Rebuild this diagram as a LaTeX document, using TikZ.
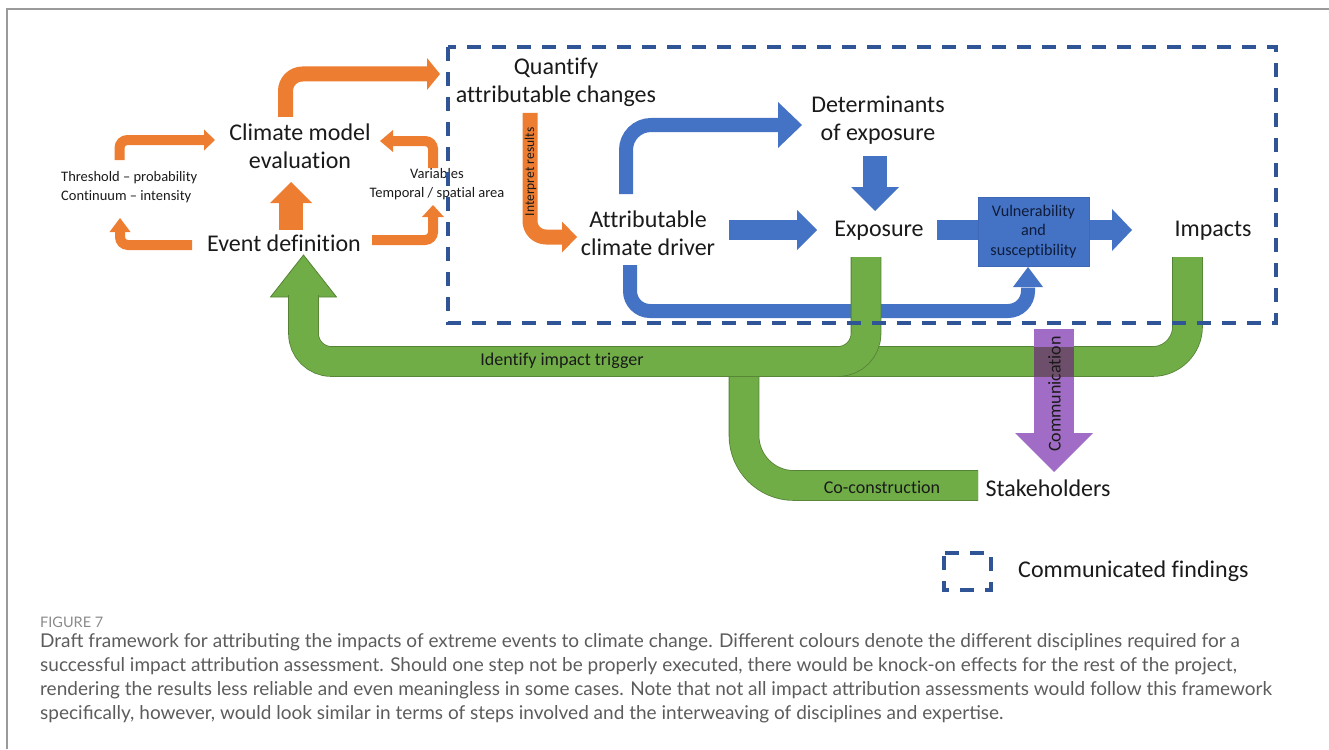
\documentclass[tikz,border=0pt]{standalone}
\usepackage{fontspec}
\setmainfont[RawFeature=-liga]{Carlito}
\newfontfamily\capfont{Lato}
\definecolor{cor}{HTML}{ED7D31}
\definecolor{cbl}{HTML}{4472C4}
\definecolor{cbld}{HTML}{3F69B8}
\definecolor{cgr}{HTML}{70AD47}
\definecolor{cgrd}{HTML}{548235}
\definecolor{cpu}{HTML}{A06CC6}
\definecolor{cpuov}{HTML}{6E4F6B}
\definecolor{cdash}{HTML}{2F5597}
\definecolor{ctxt}{HTML}{1A1A1A}
\definecolor{cvul}{HTML}{0E1C3C}
\definecolor{ccap}{HTML}{5C5C5C}
\definecolor{cfig}{HTML}{8A8A8A}
\definecolor{cframe}{HTML}{9A9A9A}
\tikzset{
  lbl/.style={font=\fontsize{24}{28}\selectfont, align=center, text=ctxt, inner sep=0pt},
  sml/.style={font=\fontsize{14.5}{19}\selectfont, text=ctxt, inner sep=0pt},
  mid/.style={font=\fontsize{18}{22}\selectfont, text=ctxt, inner sep=0pt},
  oshaft/.style={draw=cor, line width=#1, line cap=butt},
  bshaft/.style={draw=cbl, line width=#1, line cap=butt},
  gshaft/.style={draw=cgrd, double=cgr, double distance=29pt, line width=0.8pt, line cap=butt},
  dashbox/.style={draw=cdash, line width=3.5pt, dash pattern=on 14pt off 11pt},
  capline/.style={font=\capfont\fontsize{19}{24}\selectfont, text=ccap, anchor=base west, inner sep=0pt},
}
\begin{document}
\begin{tikzpicture}[x=1pt, y=-1pt]
\useasboundingbox (0,0) rectangle (1329,749);
% frame
\draw[cframe, line width=1.6pt] (7,749) -- (7,9) -- (1329,9);

% ---------- text nodes ----------
\node[lbl] (cme) at (300,146) {Climate model\\evaluation};
\node[lbl] (evd) at (284,243.5) {Event definition};
\node[sml, anchor=west, align=left] (thr) at (61,187) {Threshold -- probability\\Continuum -- intensity};
\node[sml, align=center] (var) at (437,184) {Variables\\Temporal / spatial area};
\node[lbl] (qac) at (556,82.5) {Quantify\\attributable changes};
\node[lbl] (det) at (878,120.5) {Determinants\\of exposure};
\node[lbl] (acd) at (648,233.5) {Attributable\\climate driver};
\node[lbl] (exp) at (879,230.5) {Exposure};
\node[lbl] (imp) at (1213,230.5) {Impacts};
\node[lbl] (stk) at (1048,488.5) {Stakeholders};

% ---------- orange arrows ----------
\coordinate (a1s) at (285.5,117); \coordinate (a1e) at (427,74);
\draw[oshaft=15pt, rounded corners=17pt] (a1s) |- (a1e);
\fill[cor] (427,58) -- (440,74) -- (427,90) -- cycle;

\coordinate (a2s) at (119.5,160); \coordinate (a2e) at (204,140);
\draw[oshaft=10pt, rounded corners=8pt] (a2s) |- (a2e);
\fill[cor] (204,129.5) -- (215,140) -- (204,150.5) -- cycle;

\coordinate (a3s) at (192,245); \coordinate (a3e) at (120,232);
\draw[oshaft=10pt, rounded corners=8pt] (a3s) -| (a3e);
\fill[cor] (109.5,232) -- (120,218) -- (130.5,232) -- cycle;

\coordinate (a4s) at (433,168); \coordinate (a4e) at (393,141);
\draw[oshaft=10pt, rounded corners=8pt] (a4s) |- (a4e);
\fill[cor] (393,130) -- (380,141) -- (393,152) -- cycle;

\coordinate (a5s) at (372,240); \coordinate (a5e) at (433,217);
\draw[oshaft=10pt, rounded corners=8pt] (a5s) -| (a5e);
\fill[cor] (422,217) -- (433,205) -- (444,217) -- cycle;

\fill[cor] (279,230) rectangle (303,202.5);
\fill[cor] (270,203) -- (291,182) -- (312,203) -- cycle;

\coordinate (a7s) at (530,113); \coordinate (a7e) at (562,237);
\draw[oshaft=15pt, rounded corners=16pt] (a7s) |- (a7e);
\fill[cor] (562,221.5) -- (577,237) -- (562,252.5) -- cycle;
\node[font=\fontsize{13.5}{14}\selectfont, text=ctxt, rotate=90, inner sep=0pt] (int) at (530.5,172) {Interpret results};

% ---------- blue arrows ----------
\coordinate (b1s) at (626,194); \coordinate (b1e) at (778,125);
\draw[bshaft=14pt, rounded corners=25pt] (b1s) |- (b1e);
\fill[cbl] (778,102) -- (802,125) -- (778,148) -- cycle;

\fill[cbl] (729,220) rectangle (797.5,240);
\fill[cbl] (797,210) -- (817,230) -- (797,250) -- cycle;

\fill[cbl] (863,156) rectangle (887,187.5);
\fill[cbl] (851,187) -- (875,211) -- (899,187) -- cycle;

\fill[cbl] (937,220) rectangle (1112.5,240);
\fill[cbl] (1112,209) -- (1132,230) -- (1112,251) -- cycle;
\node[draw=cbld, fill=cbl, line width=0.6pt, minimum width=111pt, minimum height=69pt, inner sep=0pt,
      font=\fontsize{16.2}{19.5}\selectfont, text=cvul, align=center] (vul) at (1033.5,231.5)
      {Vulnerability\\and\\susceptibility};

\coordinate (b5s) at (630,265); \coordinate (b5e) at (1028,287.5);
\draw[bshaft=14pt, rounded corners=20pt] (b5s) -- (630,311) -- (1028,311) -- (b5e);
\fill[cbl] (1013,287) -- (1028,267) -- (1043,287) -- cycle;

% ---------- green arrows ----------
\coordinate (g1s) at (1187.5,257); \coordinate (g1m) at (744,361.5); \coordinate (g1e) at (978,485.5);
\draw[gshaft, rounded corners=35pt] (g1s) |- (g1m);
\draw[gshaft, rounded corners=50pt] (g1m) |- (g1e);
\node[mid] (coc) at (882,487) {Co-construction};

\filldraw[fill=cgr, draw=cgrd, line width=0.8pt] (270.5,297) -- (303.5,255) -- (336.5,297) -- cycle;
\coordinate (g2s) at (866,257); \coordinate (g2e) at (303.5,295);
\draw[gshaft, rounded corners=28pt] (g2s) -- (866,361.5) -- (303.5,361.5) -- (g2e);
\node[mid] (iit) at (562,360.5) {Identify impact trigger};

% ---------- purple arrow ----------
\fill[cpu] (1034,329) rectangle (1074,433.5);
\fill[cpu] (1015,433) -- (1054,472) -- (1093,433) -- cycle;
\fill[cpuov] (1034,346.5) rectangle (1074,376.5);
\node[mid, rotate=90] (com) at (1054.5,394) {Communication};

% ---------- dashed region ----------
\draw[dashbox] (448,47) rectangle (1276,323);

% ---------- legend ----------
\draw[dashbox, dash phase=22pt] (944,553) rectangle (991,590);
\node[lbl, anchor=west] (leg) at (1018,571.5) {Communicated findings};

% ---------- caption ----------
\node[font=\capfont\fontsize{14.5}{16}\selectfont, text=cfig, anchor=base west, inner sep=0pt] (fig) at (40,627) {FIGURE 7};
\node[capline] (c1) at (40,647) {Draft framework for attributing the impacts of extreme events to climate change. Different colours denote the different disciplines required for a};
\node[capline] (c2) at (40,671) {successful impact attribution assessment. Should one step not be properly executed, there would be knock-on effects for the rest of the project,};
\node[capline] (c3) at (40,695) {rendering the results less reliable and even meaningless in some cases. Note that not all impact attribution assessments would follow this framework};
\node[capline] (c4) at (40,719) {specifically, however, would look similar in terms of steps involved and the interweaving of disciplines and expertise.};
\end{tikzpicture}
\end{document}
